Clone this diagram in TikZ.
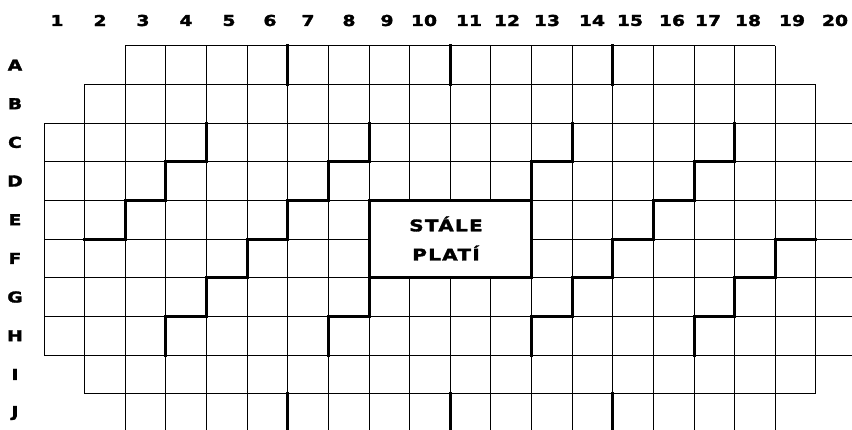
\documentclass[tikz,border=0pt]{standalone}
\usepackage{fontspec}
\newfontfamily\lblfont[FakeStretch=1.25,FakeBold=2]{DejaVu Sans}
\newfontfamily\boxfont[FakeStretch=1.25,LetterSpace=8,FakeBold=2]{DejaVu Sans}
\tikzset{
  gridline/.style={line width=1pt, draw=black},
  heavy/.style={line width=3pt, draw=black, line cap=rect, line join=miter},
  lbl/.style={font=\lblfont\bfseries\fontsize{15}{15}\selectfont, inner sep=0pt, anchor=center},
  boxtext/.style={font=\boxfont\bfseries\fontsize{16}{16}\selectfont, inner sep=0pt, anchor=center}
}
\begin{document}
\begin{tikzpicture}[x=1pt,y=1pt]
\useasboundingbox (0,0) rectangle (852,-429);
\fill[white] (0,0) rectangle (852,-429);
\begin{scope}
\clip (0,0) rectangle (852,-429);
\begin{scope}[shift={(44pt,-45.7pt)}, x=40.63pt, y=-38.67pt]
  % grid cells row by row
  \foreach \r/\a/\b in {0/2/18, 1/1/19, 2/0/21, 3/0/21, 4/0/21, 5/0/21, 6/0/21, 7/0/21, 8/1/19, 9/2/18} {
    \draw[gridline] (\a,\r) -- (\b,\r);
    \draw[gridline] (\a,\r+1) -- (\b,\r+1);
    \foreach \k in {\a,...,\b} \draw[gridline] (\k,\r) -- (\k,\r+1);
  }
  % central box
  \fill[white] (8,4) rectangle (12,6);
  \draw[heavy] (8,4) rectangle (12,6);
  % thick marks in rows A and J
  \foreach \k in {6,10,14} {
    \draw[heavy] (\k,0) -- (\k,1);
    \draw[heavy] (\k,9) -- (\k,10);
  }
  % staircases
  \draw[heavy] (1,5) -- (2,5) -- (2,4) -- (3,4) -- (3,3) -- (4,3) -- (4,2);
  \draw[heavy] (3,8) -- (3,7) -- (4,7) -- (4,6) -- (5,6) -- (5,5) -- (6,5) -- (6,4) -- (7,4) -- (7,3) -- (8,3) -- (8,2);
  \draw[heavy] (7,8) -- (7,7) -- (8,7) -- (8,6);
  \draw[heavy] (12,4) -- (12,3) -- (13,3) -- (13,2);
  \draw[heavy] (12,8) -- (12,7) -- (13,7) -- (13,6) -- (14,6) -- (14,5) -- (15,5) -- (15,4) -- (16,4) -- (16,3) -- (17,3) -- (17,2);
  \draw[heavy] (16,8) -- (16,7) -- (17,7) -- (17,6) -- (18,6) -- (18,5) -- (19,5);
\end{scope}
\end{scope}
% box text
\node[boxtext] (stale) at (446,-224) {STÁLE};
\node[boxtext] (plati) at (446,-253) {PLATÍ};
% column labels
\foreach \n/\x in {1/57, 2/100, 3/143, 4/186, 5/229, 6/270, 7/308, 8/349, 9/387, 10/424, 11/469, 12/507, 13/547, 14/592, 15/630, 16/672, 17/708, 18/748, 19/792, 20/835}
  \node[lbl] (col\n) at (\x,-20.5) {\n};
% row labels
\foreach \l [count=\i from 0] in {A,B,C,D,E,F,G,H,I,J}
  \node[lbl] (row\l) at (15,{-(45.7+38.67*(\i+0.5))}) {\l};
\end{tikzpicture}
\end{document}
